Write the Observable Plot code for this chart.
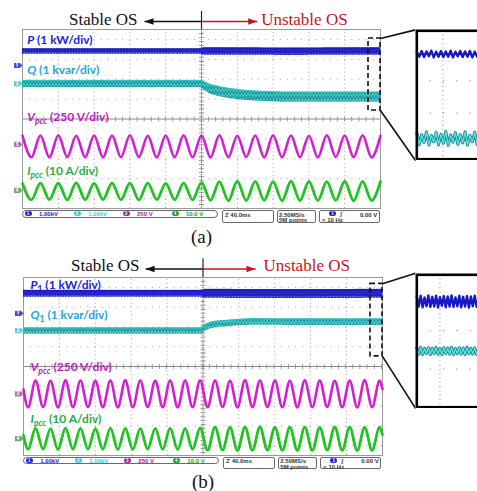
<!DOCTYPE html>
<html><head><meta charset="utf-8">
<script src="https://cdn.jsdelivr.net/npm/d3@7"></script>
<script src="https://cdn.jsdelivr.net/npm/@observablehq/plot@0.6"></script>
<style>
html,body{margin:0;padding:0;background:#fff;}
#wrap{position:relative;width:477px;height:491px;overflow:hidden;background:#fff;}
#wrap svg{position:absolute;}
.sb{position:absolute;box-sizing:border-box;border:1px solid #6a6a6a;border-radius:2px;font:bold 6px/6px "Liberation Sans",Arial,sans-serif;color:#333;white-space:nowrap;}
.pill{border-radius:4px;}
.cc{position:absolute;width:7px;height:5px;border-radius:3px;font:bold 4.5px/5px "Liberation Sans",sans-serif;color:#fff;text-align:center;}
.ct{position:absolute;font:bold 6px/6px "Liberation Sans",Arial,sans-serif;white-space:nowrap;}
</style></head>
<body><div id="wrap"></div>
<script>
// ---------------- DATA ----------------
// oscilloscope division grid (time in ms, amplitude in divisions)
const divT = [40, 80, 120, 160, 240, 280, 320, 360];
const divY = [-4, -3, -2, -1, 1, 2, 3, 4];

// Panel (a): extrema times of Vpcc / Ipcc (ms) and their values (div)
const tA = [0,10,20,30,40,50,60,70,80,90,100,110,120,130,140,150,160,170,180,190,200,
            210,220,230,240,250,260,270,280,290,300,310,320,330,340,350,360,370,380,390,400];
const vpccA = [-0.84,-1.92,-0.83,-1.93,-0.82,-1.91,-0.84,-1.92,-0.83,-1.93,
               -0.83,-1.92,-0.82,-1.91,-0.84,-1.93,-0.83,-1.92,-0.82,-1.92,
               -0.83,-1.93,-0.82,-1.92,-0.84,-1.91,-0.83,-1.93,-0.82,-1.92,
               -0.83,-1.92,-0.84,-1.93,-0.82,-1.91,-0.83,-1.92,-0.82,-1.93,
               -0.84];
const ipccA = [-3.24,-4.06,-3.22,-4.05,-3.23,-4.07,-3.21,-4.06,-3.24,-4.05,
               -3.22,-4.06,-3.23,-4.07,-3.22,-4.05,-3.24,-4.06,-3.22,-4.06,
               -3.20,-4.09,-3.15,-4.11,-3.13,-4.10,-3.14,-4.09,-3.15,-4.11,
               -3.13,-4.10,-3.14,-4.10,-3.15,-4.09,-3.13,-4.11,-3.14,-4.10,
               -3.14];
// P and Q ripple bands (centre and half width, div)
const pA_t    = [0, 100, 199, 202, 300, 400];
const pA_mid  = [3.42, 3.42, 3.42, 3.42, 3.41, 3.42];
const pA_half = [0.10, 0.10, 0.10, 0.15, 0.15, 0.15];
const qA_t    = [0, 100, 199, 201, 205, 210, 220, 230, 245, 260, 290, 340, 400];
const qA_mid  = [1.78, 1.78, 1.78, 1.74, 1.63, 1.51, 1.40, 1.31, 1.23, 1.18, 1.13, 1.12, 1.13];
const qA_half = [0.15, 0.15, 0.15, 0.17, 0.19, 0.21, 0.22, 0.22, 0.22, 0.22, 0.22, 0.22, 0.22];
// inset (a) ripple samples
const insetPA = [3.46,3.32,3.48,3.31,3.47,3.33,3.49,3.30,3.46,3.32,3.48,3.31,3.47,3.32,3.49,3.30,
                 3.46,3.33,3.48,3.31,3.47,3.32,3.48,3.30,3.46,3.32,3.49,3.31,3.47,3.32,3.48];
const insetQA = [1.18,0.84,1.12,0.90,1.20,0.83,1.10,0.92,1.19,0.84,1.13,0.88,1.21,0.82,1.11,0.91,
                 1.18,0.85,1.12,0.89,1.20,0.83,1.10,0.92,1.19,0.84,1.13,0.88,1.20,0.83,1.12];

// Panel (b)
const tB = [0,5.1,13.4,21.8,30.1,38.4,46.8,55.1,63.4,71.8,
            80.1,88.4,96.8,105.1,113.4,121.8,130.1,138.4,146.8,155.1,
            163.4,171.8,180.1,188.4,196.8,205.1,213.4,221.8,230.1,238.4,
            246.8,255.1,263.4,271.8,280.1,288.4,296.8,305.1,313.4,321.8,
            330.1,338.4,346.8,355.1,363.4,371.8,380.1,388.4,396.8,400];
const vpccB = [-1.16,-2.06,-0.71,-2.05,-0.72,-2.07,-0.70,-2.06,-0.71,-2.05,
               -0.72,-2.06,-0.71,-2.07,-0.70,-2.06,-0.71,-2.05,-0.72,-2.06,
               -0.71,-2.07,-0.71,-2.06,-0.70,-2.06,-0.71,-2.05,-0.72,-2.07,
               -0.70,-2.06,-0.71,-2.05,-0.71,-2.06,-0.72,-2.07,-0.70,-2.06,
               -0.71,-2.05,-0.72,-2.06,-0.71,-2.07,-0.70,-2.06,-0.71,-1.15];
const ipccB = [-3.48,-4.19,-3.13,-4.18,-3.14,-4.20,-3.12,-4.19,-3.13,-4.18,
               -3.14,-4.19,-3.12,-4.20,-3.13,-4.19,-3.14,-4.18,-3.13,-4.19,
               -3.12,-4.20,-3.13,-4.19,-3.11,-4.24,-3.07,-4.23,-3.08,-4.25,
               -3.07,-4.24,-3.06,-4.23,-3.08,-4.24,-3.07,-4.25,-3.07,-4.24,
               -3.08,-4.23,-3.06,-4.24,-3.07,-4.25,-3.08,-4.24,-3.07,-3.45];
const pB_t    = [0, 100, 199, 202, 300, 400];
const pB_mid  = [3.70, 3.70, 3.70, 3.70, 3.69, 3.70];
const pB_half = [0.14, 0.14, 0.14, 0.19, 0.19, 0.19];
const qB_t    = [0, 100, 198, 200.5, 208, 215, 227, 240, 253, 300, 400];
const qB_mid  = [1.82, 1.82, 1.82, 1.95, 2.10, 2.16, 2.20, 2.25, 2.28, 2.27, 2.27];
const qB_half = [0.13, 0.13, 0.13, 0.13, 0.13, 0.13, 0.13, 0.13, 0.13, 0.13, 0.13];
const insetPB = [3.58,3.30,3.60,3.28,3.55,3.31,3.61,3.29,3.57,3.30,3.60,3.27,3.56,3.32,3.59,3.28,3.58,3.30,3.61,
                 3.29,3.55,3.31,3.60,3.28,3.57,3.30,3.59,3.27,3.58,3.31,3.60,3.29,3.56,3.30,3.59,3.28,3.58,3.30];
const insetQB = [2.15,1.98,2.17,1.97,2.14,2.00,2.16,1.97,2.15,1.99,2.17,1.98,2.14,1.97,2.16,2.00,2.15,1.98,2.17,
                 1.97,2.14,1.99,2.16,1.98,2.15,1.97,2.17,2.00,2.14,1.98,2.16,1.97,2.15,1.99,2.17,1.98,2.14,1.97];

// texts
const osLabels = ["Stable OS", "Unstable OS"];
const captions = ["(a)", "(b)"];
const channelIds = ["1", "2", "3", "4"];
const chLabelsA = [
  {sym: "P", sub: "", unit: " (1 kW/div)"},
  {sym: "Q", sub: "", unit: " (1 kvar/div)"},
  {sym: "V", sub: "pcc", unit: " (250 V/div)"},
  {sym: "I", sub: "pcc", unit: " (10 A/div)"}];
const chLabelsB = [
  {sym: "P", sub: "1", unit: " (1 kW/div)"},
  {sym: "Q", sub: "1", unit: " (1 kvar/div)"},
  {sym: "V", sub: "pcc", unit: " (250 V/div)"},
  {sym: "I", sub: "pcc", unit: " (10 A/div)"}];
const statusScales = ["1.00kV", "1.00kV", "250 V", "10.0 V"];
const statusTime = "Z 40.0ms";
const statusRate = ["2.50MS/s", "5M points"];
const statusTrig = ["0.00 V", "< 10 Hz"];

// ---------------- STYLE / LAYOUT ----------------
const labelColors = ["#2222d6", "#1fa6e2", "#c41cc4", "#1fae45"];
const markerColors = ["#4b4bcf", "#5ad3d6", "#a877a8", "#76a676"];
const statusColors = ["#2424d0", "#35cfe0", "#a424a4", "#22a022"];
const osColors = ["#111", "#c3161c"];
const serif = "'Liberation Serif', 'Times New Roman', serif";

const LA = {top: 0, height: 247, mL: 22, mR: 97, mT: 29, mB: 39,
  labelT: 5.2, labelY: [3.94, 2.44, 0.08, -2.64], markerY: [2.69, 1.78, -1.28, -3.59],
  osY: 5.0, arrowY: 4.9, tickY: [4.5, 5.4], stableEnd: 128.5, unstableStart: 266.7, headL: 136.3, headR: 262.2,
  captionY: -5.95, zoom: [386.6, 400, 0.43, 4.05], insetT: 439.1, insetY: [4.48, -2.09],
  insetGridX: 10.8, insetGridY: [2.64, 1.73], insetDomX: [0, 30], statusTop: 210, statusLeft: 22};
const LB = {top: 247, height: 244, mL: 23, mR: 95, mT: 30, mB: 36,
  labelT: 7.8, labelY: [4.09, 2.58, -0.04, -2.68], markerY: [2.69, 1.82, -1.38, -3.65],
  osY: 5.1, arrowY: 4.93, tickY: [4.5, 5.45], stableEnd: 129.3, unstableStart: 267.4, headL: 136, headR: 258.5,
  captionY: -5.85, zoom: [386.6, 400, 0.51, 4.18], insetT: 436.8, insetY: [4.72, -2.12],
  insetGridX: 12, insetGridY: [2.63, 1.57], insetDomX: [0, 37.5], statusTop: 456.7, statusLeft: 23.3};

const wrap = document.getElementById("wrap");
const NS = "http://www.w3.org/2000/svg";

// patterns for the noisy P/Q traces
const defsSvg = document.createElementNS(NS, "svg");
defsSvg.setAttribute("width", 0); defsSvg.setAttribute("height", 0);
defsSvg.innerHTML = `<defs>
<pattern id="patP" patternUnits="userSpaceOnUse" width="3" height="4">
 <rect width="3" height="4" fill="#1717b8"/>
 <path d="M0,4 L1.5,0 L3,4" fill="none" stroke="#3a3ae6" stroke-width="0.6"/>
</pattern>
<pattern id="patQ" patternUnits="userSpaceOnUse" width="3.2" height="5">
 <rect width="3.2" height="5" fill="#5cdcdc"/>
 <path d="M0,5 L1.6,0 L3.2,5" fill="none" stroke="#0f8a8c" stroke-width="1"/>
</pattern></defs>`;
wrap.appendChild(defsSvg);

const tag = {draw(c) { c.moveTo(-8.5, -2.6); c.lineTo(-2.6, -2.6); c.lineTo(0, 0); c.lineTo(-2.6, 2.6); c.lineTo(-8.5, 2.6); c.closePath(); }};
const headLeft = {draw(c) { c.moveTo(0, 0); c.lineTo(9, -3.3); c.lineTo(9, 3.3); c.closePath(); }};
const headRight = {draw(c) { c.moveTo(0, 0); c.lineTo(-9, -3.3); c.lineTo(-9, 3.3); c.closePath(); }};

function richLabels(svg, labels) {
  const texts = Array.from(svg.querySelectorAll("text"));
  labels.forEach(L => {
    const el = texts.find(e => e.textContent === L.full && !e.dataset.done);
    if (!el) return;
    el.dataset.done = "1";
    el.textContent = "";
    const a = document.createElementNS(NS, "tspan");
    a.setAttribute("font-style", "italic"); a.textContent = L.sym; el.appendChild(a);
    if (L.sub) {
      const s = document.createElementNS(NS, "tspan");
      s.setAttribute("font-size", "8.5"); s.setAttribute("dy", "2.4");
      if (L.sub !== "1") s.setAttribute("font-style", "italic");
      s.textContent = L.sub; el.appendChild(s);
    }
    const u = document.createElementNS(NS, "tspan");
    if (L.sub) u.setAttribute("dy", "-2.4");
    u.textContent = L.unit; el.appendChild(u);
  });
}

function buildPanel(L, D, k) {
  const waves = D.t.map((t, i) => ({t, v: D.vpcc[i], c: D.ipcc[i]}));
  const bandP = D.pT.map((t, i) => ({t, lo: D.pMid[i] - D.pHalf[i], hi: D.pMid[i] + D.pHalf[i]}));
  const bandQ = D.qT.map((t, i) => ({t, lo: D.qMid[i] - D.qHalf[i], hi: D.qMid[i] + D.qHalf[i]}));
  const labels = D.labels.map((l, i) => ({...l, full: l.sym + l.sub + l.unit, t: L.labelT, y: L.labelY[i], color: labelColors[i]}));
  const markers = channelIds.map((ch, i) => ({ch, y: L.markerY[i], color: markerColors[i]}));
  const stable = [{s: osLabels[0], t: L.stableEnd, y: L.osY}];
  const unstable = [{s: osLabels[1], t: L.unstableStart, y: L.osY}];
  const shafts = [
    {x1: 200, x2: L.headL, y: L.arrowY, color: osColors[0]},
    {x1: 200, x2: L.headR, y: L.arrowY, color: osColors[1]}];
  const z = L.zoom;
  const conn = [
    {x1: z[1], y1: z[3], x2: L.insetT, y2: L.insetY[0]},
    {x1: z[1], y1: z[2], x2: L.insetT, y2: L.insetY[1]}];
  const edge = (data, key, color) => Plot.line(data, {x: "t", y: key, stroke: color, strokeWidth: 1.5, strokeDasharray: "1.3,1.5"});

  const svg = Plot.plot({
    width: 477, height: L.height,
    marginLeft: L.mL, marginRight: L.mR, marginTop: L.mT, marginBottom: L.mB,
    x: {domain: [0, 400], axis: null},
    y: {domain: [-4.5, 4.5], axis: null},
    color: {type: "identity"},
    style: {background: "transparent", overflow: "hidden"},
    marks: [
      Plot.ruleX(divT, {y1: -4.5, y2: 4.5, stroke: "#a4a4a4", strokeDasharray: "1,2.98"}),
      Plot.ruleY(divY, {stroke: "#a4a4a4", strokeDasharray: "1,6.16"}),
      Plot.ruleX([200], {stroke: "#6e6e6e", strokeDasharray: "1.5,1"}),
      Plot.ruleY([0], {stroke: "#8a8a8a"}),
      Plot.ruleX([200], {stroke: "#8a8a8a", strokeWidth: 5, strokeDasharray: "0.8,3.18"}),
      Plot.ruleY([0], {stroke: "#8a8a8a", strokeWidth: 5, strokeDasharray: "0.8,6.36"}),
      Plot.frame({stroke: "#9a9a9a"}),
      Plot.areaY(bandP, {x: "t", y1: "lo", y2: "hi", fill: "url(#patP)"}),
      edge(bandP, "hi", "#1a1ac0"), edge(bandP, "lo", "#1a1ac0"),
      Plot.areaY(bandQ, {x: "t", y1: "lo", y2: "hi", fill: "url(#patQ)"}),
      edge(bandQ, "hi", "#2cc4c4"), edge(bandQ, "lo", "#1aa4a8"),
      Plot.line(waves, {x: "t", y: "v", stroke: "#d21fd2", strokeWidth: 2.6, curve: "monotone-x"}),
      Plot.line(waves, {x: "t", y: "c", stroke: "#20c420", strokeWidth: 2.8, curve: "monotone-x"}),
      Plot.dot(markers, {x: () => 0, y: "y", symbol: tag, r: 4, fill: "color", stroke: "none"}),
      Plot.text(markers, {x: () => 0, y: "y", text: "ch", dx: -5.5, fontSize: 5, fontWeight: "bold", fill: "white"}),
      Plot.text(labels, {x: "t", y: "y", text: "full", fill: "color", textAnchor: "start", fontSize: 12,
        fontWeight: "bold", fontFamily: "Lato"}),
      Plot.ruleX([200], {y1: L.tickY[0], y2: L.tickY[1], stroke: "#222", strokeWidth: 1.2}),
      Plot.link(shafts, {x1: "x1", x2: "x2", y1: "y", y2: "y", stroke: "color", strokeWidth: 1.6}),
      Plot.dot([shafts[0]], {x: "x2", y: "y", symbol: headLeft, r: 4, fill: "color", stroke: "none"}),
      Plot.dot([shafts[1]], {x: "x2", y: "y", symbol: headRight, r: 4, fill: "color", stroke: "none"}),
      Plot.text(stable, {x: "t", y: "y", text: "s", fill: osColors[0], textAnchor: "end", fontSize: 17, fontFamily: serif}),
      Plot.text(unstable, {x: "t", y: "y", text: "s", fill: osColors[1], textAnchor: "start", fontSize: 17, fontFamily: serif}),
      Plot.rect([z], {x1: d => d[0], x2: d => d[1], y1: d => d[2], y2: d => d[3], fill: "none",
        stroke: "#111", strokeWidth: 1.6, strokeDasharray: "5,3"}),
      Plot.link(conn, {x1: "x1", y1: "y1", x2: "x2", y2: "y2", stroke: "#111", strokeWidth: 1.6}),
      Plot.text([captions[k]], {x: () => 200, y: () => L.captionY, text: d => d, fontSize: 19, fontFamily: serif, fill: "#111"})
    ]
  });
  svg.style.left = "0px"; svg.style.top = L.top + "px";
  wrap.appendChild(svg);
  richLabels(svg, labels);

  // inset (zoomed view of the dashed region)
  const xs = svg.scale("x"), ys = svg.scale("y");
  const left = xs.apply(L.insetT), top = ys.apply(L.insetY[0]), bottom = ys.apply(L.insetY[1]);
  const inset = Plot.plot({
    width: 75, height: Math.round(bottom - top), margin: 1.3,
    x: {domain: L.insetDomX, axis: null},
    y: {domain: [z[2], z[3]], axis: null},
    style: {background: "white", overflow: "hidden"},
    marks: [
      Plot.ruleX([L.insetGridX], {stroke: "#8a8a8a", strokeDasharray: "1,3.3"}),
      Plot.ruleY(L.insetGridY, {stroke: "#8a8a8a", strokeDasharray: "1.2,12.1"}),
      Plot.lineY(D.insetP, {x: (d, i) => i, y: d => d, stroke: "#1818c4", strokeWidth: 2.4}),
      Plot.lineY(D.insetQ, {x: (d, i) => i, y: d => d, stroke: "#14868c", strokeWidth: 3}),
      Plot.lineY(D.insetQ, {x: (d, i) => i, y: d => d, stroke: "#5fe0e0", strokeWidth: 1.3}),
      Plot.frame({stroke: "#000", strokeWidth: 2.6})
    ]
  });
  inset.style.left = left + "px"; inset.style.top = (L.top + top) + "px";
  wrap.appendChild(inset);

  statusBar(L.statusLeft, L.statusTop);
}

function el(cls, x, y, w, h, html, color) {
  const d = document.createElement("div");
  d.className = cls;
  d.style.left = x + "px"; d.style.top = y + "px";
  if (w != null) d.style.width = w + "px";
  if (h != null) d.style.height = h + "px";
  if (html != null) d.textContent = html;
  if (color) d.style.color = color;
  wrap.appendChild(d);
  return d;
}

function statusBar(left, top) {
  el("sb pill", left, top, 196, 7.5);
  statusScales.forEach((s, i) => {
    const c = el("cc", left + 2.5 + 49 * i, top + 1.2, null, null, channelIds[i]);
    c.style.background = statusColors[i];
    el("ct", left + 17 + 49 * i, top + 0.9, null, null, s, statusColors[i]);
  });
  el("sb", left + 200, top, 52, 12.5);
  el("ct", left + 203, top + 1.5, null, null, statusTime, "#333");
  el("sb", left + 255, top, 39, 12.5);
  el("ct", left + 257, top + 1.5, null, null, statusRate[0], "#333");
  el("ct", left + 257, top + 7.3, null, null, statusRate[1], "#333");
  el("sb", left + 297, top, 61, 12.5);
  const c = el("cc", left + 307, top + 1.3, null, null, channelIds[0]);
  c.style.background = statusColors[0];
  el("ct", left + 318, top + 1.2, null, null, "ʃ", "#333");
  el("ct", left + 338, top + 1.5, null, null, statusTrig[0], "#333");
  el("ct", left + 300, top + 7.3, null, null, statusTrig[1], "#333");
}

buildPanel(LA, {t: tA, vpcc: vpccA, ipcc: ipccA, pT: pA_t, pMid: pA_mid, pHalf: pA_half,
  qT: qA_t, qMid: qA_mid, qHalf: qA_half, labels: chLabelsA, insetP: insetPA, insetQ: insetQA}, 0);
buildPanel(LB, {t: tB, vpcc: vpccB, ipcc: ipccB, pT: pB_t, pMid: pB_mid, pHalf: pB_half,
  qT: qB_t, qMid: qB_mid, qHalf: qB_half, labels: chLabelsB, insetP: insetPB, insetQ: insetQB}, 1);
</script></body></html>
